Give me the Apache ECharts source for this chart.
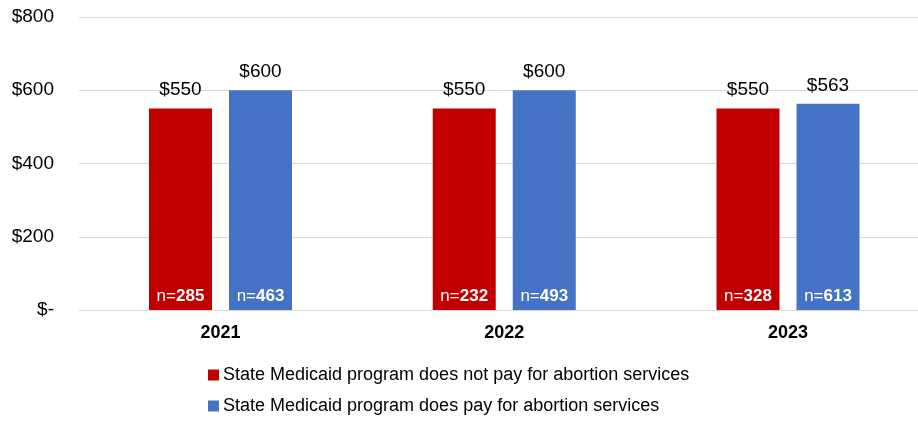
<!DOCTYPE html>
<html><head><meta charset="utf-8">
<script src="https://cdn.jsdelivr.net/npm/echarts@6/dist/echarts.min.js"></script>
<style>html,body{margin:0;padding:0;background:#fff}#c{width:918px;height:421px}</style>
</head><body><div id="c"></div>
<script>
const categories = ['2021', '2022', '2023'];
const notPayValues = [550, 550, 550];
const payValues = [600, 600, 563];
const notPayN = [285, 232, 328];
const payN = [463, 493, 613];
const yTicks = [0, 200, 400, 600, 800];
const seriesNames = ['State Medicaid program does not pay for abortion services', 'State Medicaid program does pay for abortion services'];

const FONT = 'Liberation Sans, Arial, Helvetica, sans-serif';
const RED = '#C00000', BLUE = '#4472C4';
const chart = echarts.init(document.getElementById('c'));
const nLabel = (arr) => ({
  show: true, position: 'insideBottom', distance: 5,
  formatter: p => '{a|n=}{b|' + arr[p.dataIndex] + '}',
  rich: {
    a: {color: '#fff', fontSize: 17, fontFamily: FONT},
    b: {color: '#fff', fontSize: 17, fontWeight: 'bold', fontFamily: FONT}
  }
});
const topLabel = {
  show: true, position: 'top', distance: 9, color: '#000', fontSize: 19, fontFamily: FONT,
  formatter: p => '$' + p.value
};
const legendBase = {
  orient: 'horizontal', left: 203, itemWidth: 11, itemHeight: 11,
  icon: 'rect', textStyle: {fontSize: 18, fontFamily: FONT, color: '#000', padding: [0,0,0,-1]}
};
chart.setOption({
  animation: false,
  grid: [
    {left: 79, right: 0, top: 17, bottom: 111, containLabel: false},
    {left: 220.5, right: 130, top: 17, bottom: 111, containLabel: false}
  ],
  legend: [
    Object.assign({}, legendBase, {top: 361, data: [seriesNames[0]]}),
    Object.assign({}, legendBase, {top: 392, data: [seriesNames[1]]})
  ],
  xAxis: [
    {type: 'category', gridIndex: 0, data: categories, axisTick: {show: false}, axisLabel: {show: false},
     axisLine: {show: true, lineStyle: {color: '#d9d9d9', width: 1}}},
    {type: 'category', gridIndex: 1, data: categories, boundaryGap: false, axisTick: {show: false},
     axisLine: {show: false},
     axisLabel: {fontSize: 18, fontWeight: 'bold', color: '#000', fontFamily: FONT, margin: 14}},
    {type: 'category', gridIndex: 1, data: categories, boundaryGap: false, show: false, position: 'bottom'}
  ],
  yAxis: [
    {type: 'value', gridIndex: 0, min: 0, max: 800, interval: 200,
     axisLine: {show: false}, axisTick: {show: false},
     splitLine: {lineStyle: {color: '#d9d9d9', width: 1}},
     axisLabel: {fontSize: 19, color: '#000', fontFamily: FONT, margin: 25,
       formatter: v => v === 0 ? '$-' : '$' + v}},
    {type: 'value', gridIndex: 1, min: 0, max: 800, interval: 200, show: false, splitLine: {show: false}}
  ],
  series: [
    {name: seriesNames[0], type: 'bar', xAxisIndex: 1, yAxisIndex: 1, data: notPayValues, barWidth: 63, barGap: '27%',
     itemStyle: {color: RED}, label: nLabel(notPayN)},
    {name: seriesNames[1], type: 'bar', xAxisIndex: 1, yAxisIndex: 1, data: payValues, barWidth: 63, barGap: '27%',
     itemStyle: {color: BLUE}, label: nLabel(payN)},
    {name: 'lab1', type: 'bar', xAxisIndex: 2, yAxisIndex: 1, data: notPayValues, barWidth: 63, barGap: '27%',
     itemStyle: {color: 'transparent'}, label: topLabel, silent: true},
    {name: 'lab2', type: 'bar', xAxisIndex: 2, yAxisIndex: 1, data: payValues, barWidth: 63, barGap: '27%',
     itemStyle: {color: 'transparent'}, label: topLabel, silent: true}
  ]
});
</script></body></html>
